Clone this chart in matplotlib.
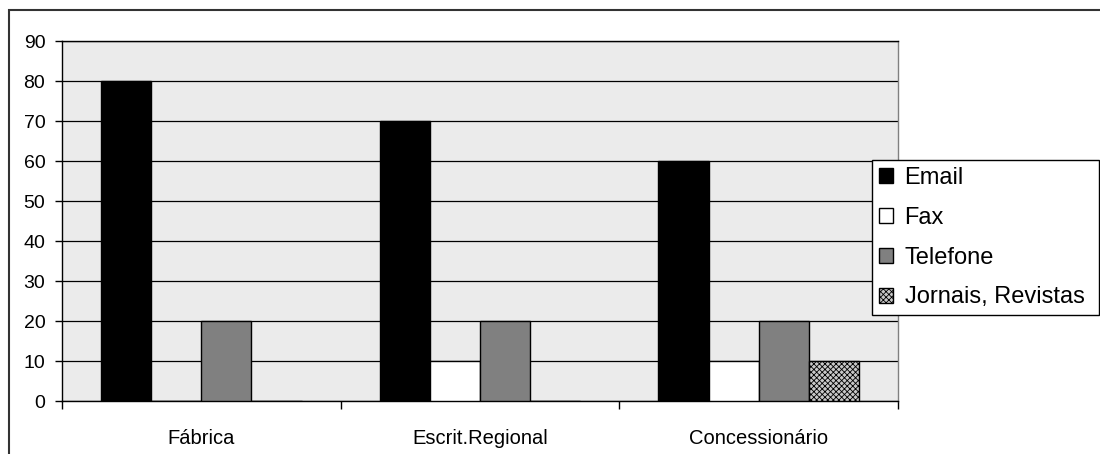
import numpy as np
import matplotlib.pyplot as plt
from matplotlib.patches import Rectangle

plt.rcParams['font.family'] = ['Liberation Sans', 'DejaVu Sans']
plt.rcParams['hatch.linewidth'] = 0.6

# Data
categories = ['Fábrica', 'Escrit.Regional', 'Concessionário']
email = [80, 70, 60]
fax = [0, 10, 10]
telefone = [20, 20, 20]
jornais = [0, 0, 10]
series_names = ['Email', 'Fax', 'Telefone', 'Jornais, Revistas']

fig = plt.figure(figsize=(11, 4.54), dpi=100)
ax = fig.add_axes([62 / 1100, 1 - 401 / 454, 836 / 1100, 360 / 454])
ax.set_facecolor('#ebebeb')

x = np.arange(len(categories))
w = 0.18
styles = [
    dict(color='black'),
    dict(color='white'),
    dict(color='#808080'),
    dict(color='#c8c8c8', hatch='xxxxxx'),
]
all_values = [email, fax, telefone, jornais]
handles = []
for i, (vals, name, st) in enumerate(zip(all_values, series_names, styles)):
    b = ax.bar(x + (i - 1.5) * w, vals, w, label=name, edgecolor='black',
               linewidth=1.0, zorder=3, **st)
    handles.append(b)

ax.set_xlim(-0.5, 2.5)
ax.set_ylim(0, 90)
ax.set_yticks(range(0, 91, 10))
ax.yaxis.grid(True, color='black', linewidth=0.9, zorder=1)
ax.set_axisbelow(True)

# category boundaries as major ticks, names centred as minor ticks
ax.set_xticks([-0.5, 0.5, 1.5, 2.5])
ax.set_xticklabels([])
ax.set_xticks(x, minor=True)
ax.set_xticklabels(categories, minor=True, fontsize=14.5)
ax.tick_params(axis='x', which='minor', length=0, pad=20)
ax.tick_params(axis='x', which='major', length=6, width=1, direction='out')
ax.tick_params(axis='y', length=5, width=1, labelsize=14, pad=7)

ax.spines['left'].set_color('black')
ax.spines['bottom'].set_color('black')
ax.spines['top'].set_color('black')
ax.spines['right'].set_color('#808080')
for s in ax.spines.values():
    s.set_linewidth(1.0)

leg = ax.legend(handles=handles, loc='upper left',
                bbox_to_anchor=(872 / 1100, 1 - 311 / 454, 227 / 1100, 151 / 454),
                bbox_transform=fig.transFigure, mode='expand',
                fontsize=17, frameon=True, fancybox=False, edgecolor='black',
                framealpha=1, handlelength=0.6, handleheight=0.6,
                handletextpad=0.5, labelspacing=0.76, borderpad=0.28,
                borderaxespad=0)
leg.get_frame().set_linewidth(1.0)

# outer chart frame
fig.patches.append(Rectangle((9 / 1100, -0.2), 1.2, 1.2 - 10 / 454,
                             transform=fig.transFigure, fill=False,
                             edgecolor='#333333', linewidth=1.5))

fig.savefig('out.png', dpi=100)
